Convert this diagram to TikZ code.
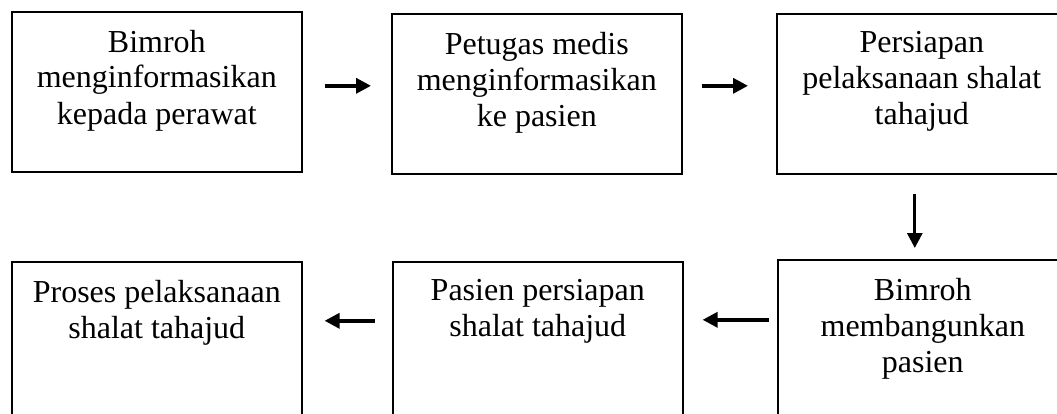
\documentclass[tikz,border=0pt]{standalone}
\usepackage{fontspec}
\setmainfont{Liberation Serif}
\usetikzlibrary{arrows.meta}
\tikzset{
  stepbox/.style={draw=black, line width=1.6pt, inner sep=0pt, anchor=north west,
                  font=\fontsize{32}{36}\selectfont},
  flow/.style={-{Triangle[length=15pt,width=15pt]}, line width=3.5pt, draw=black}
}
\newcommand{\steptext}[1]{\parbox[t][160pt][t]{290pt}{\vspace*{18pt}\centering #1}}

\begin{document}
\begin{tikzpicture}[x=1pt,y=-1pt]
  \useasboundingbox (0,0) rectangle (1057,414);
  \clip (0,0) rectangle (1057,414);
  \node[stepbox] (info) at (11,11) {\steptext{Bimroh\\menginformasikan\\kepada perawat}};
  \node[stepbox] (medis) at (391,13) {\steptext{Petugas medis\\menginformasikan\\ke pasien}};
  \node[stepbox] (siap) at (776,13) {\steptext{Persiapan\\pelaksanaan shalat\\tahajud}};
  \node[stepbox] (bangun) at (777,259) {\steptext{Bimroh\\membangunkan\\pasien}};
  \node[stepbox] (pasien) at (392,261) {\steptext{Pasien persiapan\\shalat tahajud}};
  \node[stepbox] (proses) at (11,261) {\steptext{Proses pelaksanaan\\shalat tahajud}};
  \draw[flow, shorten <=22pt, shorten >=20pt] ([yshift=6pt]info.east) -- ([yshift=6pt]info.east -| medis.west);
  \draw[flow, shorten <=19pt, shorten >=28pt] ([yshift=8pt]medis.east) -- ([yshift=8pt]medis.east -| siap.west);
  \draw[flow, line width=3pt, shorten <=19pt, shorten >=11pt] ([xshift=-7pt]siap.south) -- ([xshift=-7pt]siap.south |- bangun.north);
  \draw[flow, shorten <=8pt, shorten >=19pt] ([yshift=20pt]bangun.west) -- ([yshift=20pt]bangun.west -| pasien.east);
  \draw[flow, shorten <=17pt, shorten >=22pt] ([yshift=21pt]pasien.west) -- ([yshift=21pt]pasien.west -| proses.east);
\end{tikzpicture}
\end{document}
